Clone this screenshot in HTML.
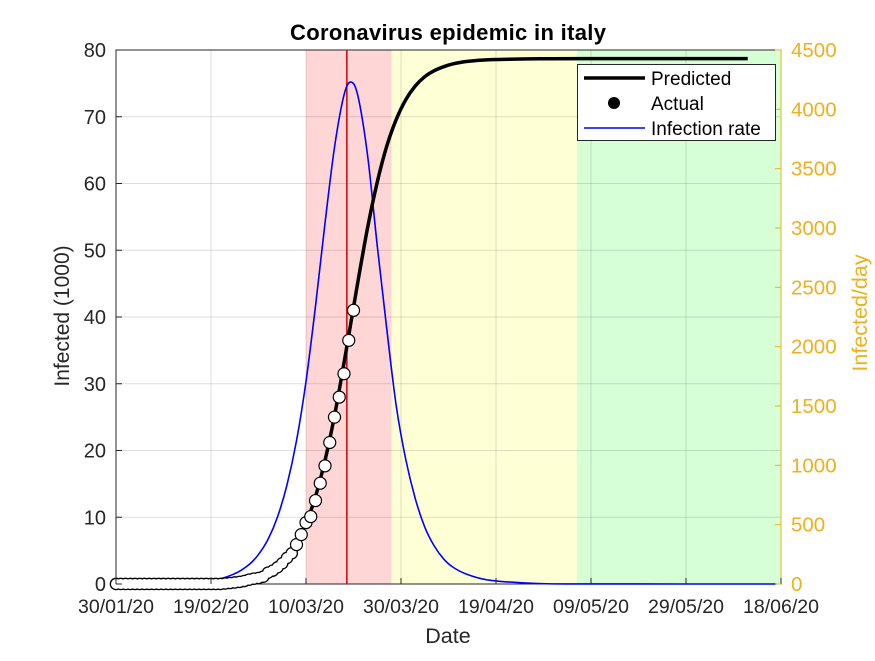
<!DOCTYPE html>
<html><head><meta charset="utf-8"><style>
html,body{margin:0;padding:0;background:#fff;}
body{position:relative;}
svg text{font-family:"Liberation Sans",Arial,sans-serif;}
</style></head><body>
<svg id="chart" width="875" height="656" viewBox="0 0 875 656"></svg>
<script>
// ---- data ----
const xTickLabels = ["30/01/20","19/02/20","10/03/20","30/03/20","19/04/20","09/05/20","29/05/20","18/06/20"];
const xTickDays = [0,20,40,60,80,100,120,140];
const yLeftTicks = [0,10,20,30,40,50,60,70,80];
const yRightTicks = [0,500,1000,1500,2000,2500,3000,3500,4000,4500];
const predDays = [0,10,20,25,28,30,32,34,36,38,40,42,44,46,48,49.5,51,53,55,57,59,61,63,65,67,69,71,74,79,89,99,133];
const predVals = [0.002,0.016,0.139,0.403,0.768,1.175,1.79,2.72,4.10,6.15,9.05,13.1,18.5,25.2,33.1,39.35,45.6,53.5,60.2,65.6,69.6,72.55,74.6,76.0,76.9,77.5,77.93,78.3,78.56,78.68,78.7,78.7];
const rateDays = [0,10,20,25,28,30,32,34,36,38,40,42,44,46,48,49.5,51,53,55,57,59,61,63,65,67,69,71,74,79,89,99,139];
const rateVals = [0.4,3.5,30,87,163,249,376,565,836,1207,1707,2342,3040,3680,4120,4230,4100,3600,2850,2150,1500,1050,720,480,320,210,140,80,30,4,0.5,0];
const actualDays = [0,1,2,3,4,5,6,7,8,9,10,11,12,13,14,15,16,17,18,19,20,21,22,23,24,25,26,27,28,29,30,31,32,33,34,35,36,37,38,39,40,41,42,43,44,45,46,47,48,49,50];
const actualVals = [0.003,0.003,0.003,0.003,0.003,0.003,0.003,0.003,0.003,0.003,0.003,0.003,0.003,0.003,0.003,0.003,0.003,0.003,0.003,0.003,0.003,0.003,0.003,0.08,0.15,0.23,0.32,0.45,0.65,0.8,0.9,1.1,1.7,2.0,2.5,3.1,3.9,4.6,5.9,7.4,9.2,10.1,12.5,15.1,17.7,21.2,25,28,31.5,36.5,41];
const phaseStarts = [40,58,97];
const phaseEnds = [58,97,140];
const phaseColors = ["#ffd6d6","#ffffd6","#d6ffd6"];
const markerDay = 48.6;

// ---- layout ----
const L=116,R=781,T=50,B=584;
const X=d=>L+(d/140)*(R-L);
const YL=v=>B-(v/80)*(B-T);
const YR=v=>B-(v/4500)*(B-T);
const svg=document.getElementById('chart');
const NS="http://www.w3.org/2000/svg";
function mk(tag,attrs,parent){const e=document.createElementNS(NS,tag);for(const k in attrs)e.setAttribute(k,attrs[k]);(parent||svg).appendChild(e);return e;}
function smooth(pts){ // Catmull-Rom to bezier
  let d='M'+pts[0][0]+','+pts[0][1];
  for(let i=0;i<pts.length-1;i++){
    const p0=pts[Math.max(0,i-1)],p1=pts[i],p2=pts[i+1],p3=pts[Math.min(pts.length-1,i+2)];
    const c1x=p1[0]+(p2[0]-p0[0])/6,c1y=p1[1]+(p2[1]-p0[1])/6;
    const c2x=p2[0]-(p3[0]-p1[0])/6,c2y=p2[1]-(p3[1]-p1[1])/6;
    d+=' C'+c1x+','+Math.min(B,c1y)+' '+c2x+','+Math.min(B,c2y)+' '+p2[0]+','+p2[1];
  }
  return d;
}

phaseStarts.forEach((s,i)=>{
  const r=mk('rect',{x:X(s),y:T,width:X(phaseEnds[i])-X(s),height:B-T,fill:phaseColors[i]});
  
  
});
xTickDays.forEach(d=>{const g=mk('line',{x1:X(d),x2:X(d),y1:T,y2:B,stroke:'#000','stroke-opacity':0.13,'stroke-width':1});
  
  });
yLeftTicks.forEach(v=>{const g=mk('line',{x1:L,x2:R,y1:YL(v),y2:YL(v),stroke:'#000','stroke-opacity':0.13,'stroke-width':1});
  
  });
const ax=mk('rect',{x:L,y:T,width:R-L,height:B-T,fill:'none',stroke:'#262626','stroke-width':1});


mk('line',{x1:R,x2:R,y1:T,y2:B,stroke:'#EDB120','stroke-width':1});
const ml=mk('line',{x1:X(markerDay),x2:X(markerDay),y1:T,y2:B,stroke:'#d00000','stroke-width':1.5});



const rl=mk('path',{d:smooth(rateDays.map((d,i)=>[X(d),YR(rateVals[i])])),fill:'none',stroke:'#0000ff','stroke-width':1.6});


const pl=mk('path',{d:smooth(predDays.map((d,i)=>[X(d),YL(predVals[i])])),fill:'none',stroke:'#000','stroke-width':3.5});



// actual: early dense points drawn as merged outline, later as individual circles
const cut=38;
actualDays.forEach((d,i)=>{ if(d<cut){ mk('circle',{cx:X(d),cy:YL(actualVals[i]),r:6.3,fill:'#000'}); }});
actualDays.forEach((d,i)=>{ if(d<cut){ mk('circle',{cx:X(d),cy:YL(actualVals[i]),r:5,fill:'#fff'}); }});
actualDays.forEach((d,i)=>{ if(d>=cut){
  const c=mk('circle',{cx:X(d),cy:YL(actualVals[i]),r:6,fill:'#fff',stroke:'#000','stroke-width':1.2});
  
  }});

xTickDays.forEach((d,i)=>{
  mk('line',{x1:X(d),x2:X(d),y1:B,y2:B-6,stroke:'#262626'});
  const t=mk('text',{x:X(d),y:B+29,'text-anchor':'middle','font-size':19.5,fill:'#262626'});t.textContent=xTickLabels[i];
  
  
});
yLeftTicks.forEach(v=>{
  mk('line',{x1:L,x2:L+6,y1:YL(v),y2:YL(v),stroke:'#262626'});
  const t=mk('text',{x:L-10,y:YL(v)+7,'text-anchor':'end','font-size':20,fill:'#262626'});t.textContent=v;
  
  
});
yRightTicks.forEach(v=>{
  mk('line',{x1:R,x2:R-6,y1:YR(v),y2:YR(v),stroke:'#EDB120'});
  const t=mk('text',{x:R+10,y:YR(v)+7,'text-anchor':'start','font-size':20.5,fill:'#EDB120'});t.textContent=v;
  
  
});
</script>
<svg width="875" height="656" style="position:absolute;left:0;top:0;pointer-events:none">
  <text x="448" y="40" text-anchor="middle" font-size="22" font-weight="bold" fill="#000" textLength="316">Coronavirus epidemic in italy</text>
  <text x="448" y="643" text-anchor="middle" font-size="21.5" fill="#262626">Date</text>
  <text transform="translate(69,316) rotate(-90)" text-anchor="middle" font-size="21" fill="#262626">Infected (1000)</text>
  <text transform="translate(867,313) rotate(-90)" text-anchor="middle" font-size="21.5" fill="#EDB120">Infected/day</text>
  <g>
    <rect x="577.5" y="64.5" width="198" height="76" fill="#fff" stroke="#262626" stroke-width="1"/>
    <line x1="584" x2="645" y1="78" y2="78" stroke="#000" stroke-width="3.5"/>
    <text x="651" y="85" font-size="19" fill="#000">Predicted</text>
    <circle cx="614" cy="103" r="6" fill="#000"/>
    <text x="651" y="110" font-size="19" fill="#000">Actual</text>
    <line x1="584" x2="645" y1="128" y2="128" stroke="#0000ff" stroke-width="1.6"/>
    <text x="651" y="135" font-size="19" fill="#000">Infection rate</text>
  </g>
</svg>
</body></html>
